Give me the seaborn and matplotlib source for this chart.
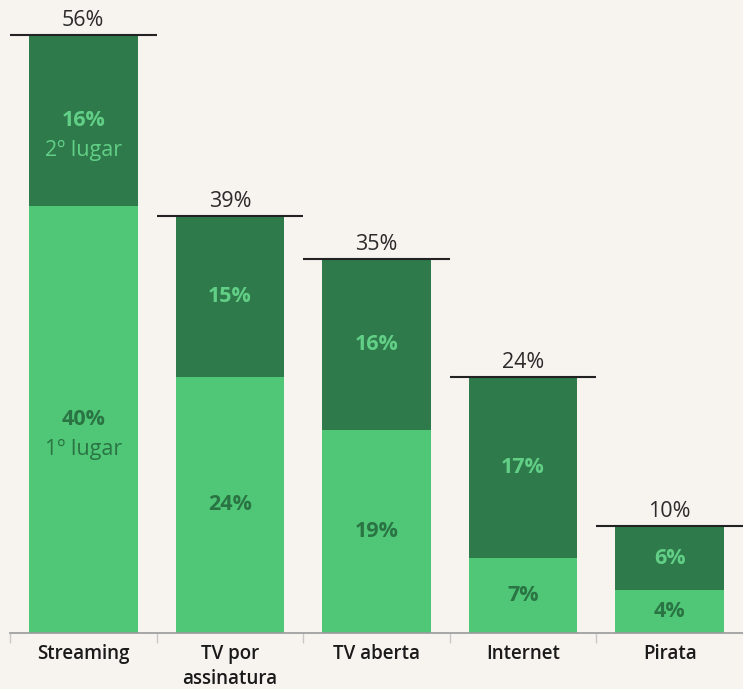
import matplotlib
matplotlib.use("Agg")
import matplotlib.pyplot as plt
import seaborn as sns
import pandas as pd

categories = ["Streaming", "TV por\nassinatura", "TV aberta", "Internet", "Pirata"]
first_place = [40, 24, 19, 7, 4]
second_place = [16, 15, 16, 17, 6]
totals = [56, 39, 35, 24, 10]

BG = "#F7F3EF"
LIGHT = "#4FC777"
DARK = "#2E7A4B"
LIGHT_TXT = "#62CF86"
DARK_TXT = "#2A7443"

sns.set_theme(style="white")
plt.rcParams["font.family"] = ["Open Sans", "DejaVu Sans"]

df = pd.DataFrame({"cat": categories, "first": first_place,
                   "second": second_place, "total": totals})

fig = plt.figure(figsize=(7.43, 6.89), dpi=100, facecolor=BG)
ax = fig.add_axes([10 / 743, 1 - 633 / 689, 1 - 10 / 743, 633 / 689])
ax.set_facecolor(BG)

# stacked bars: full height in dark, first place overlaid in light
sns.barplot(data=df, x="cat", y="total", color=DARK, saturation=1,
            width=0.74, ax=ax, order=categories, linewidth=0)
sns.barplot(data=df, x="cat", y="first", color=LIGHT, saturation=1,
            width=0.74, ax=ax, order=categories, linewidth=0)

for i, (f, s, t) in enumerate(zip(first_place, second_place, totals)):
    # total marker line and label
    ax.plot([i - 0.5, i + 0.5], [t, t], color="#222222", lw=1.5,
            solid_capstyle="butt", zorder=5)
    ax.annotate(f"{t}%", (i, t), xytext=(0, 3), textcoords="offset points",
                ha="center", va="bottom", fontsize=15.5, color="#2b2b2b")
    # segment labels
    ax.text(i, f + s / 2, f"{s}%", ha="center", va="center", fontsize=15.5,
            fontweight="bold", color=LIGHT_TXT)
    ax.text(i, f / 2, f"{f}%", ha="center", va="center", fontsize=15.5,
            fontweight="bold", color=DARK_TXT)
    if i == 0:
        ax.annotate("2º lugar", (i, f + s / 2), xytext=(0, -21.5),
                    textcoords="offset points", ha="center", va="center",
                    fontsize=15.5, color=LIGHT_TXT)
        ax.annotate("1º lugar", (i, f / 2), xytext=(0, -21.5),
                    textcoords="offset points", ha="center", va="center",
                    fontsize=15.5, color=DARK_TXT)

ax.set_xlim(-0.5, 4.5)
ax.set_ylim(0, 633 / 10.68)
ax.set_xlabel("")
ax.set_ylabel("")
ax.set_yticks([])
for side in ["left", "right", "top"]:
    ax.spines[side].set_visible(False)
ax.spines["bottom"].set_color("#9a9a9a")
ax.spines["bottom"].set_linewidth(1.2)

ax.set_xticks(range(len(categories)))
ax.set_xticklabels(categories, fontsize=13.5, color="#1a1a1a",
                   fontweight="semibold", linespacing=1.35)
ax.tick_params(axis="x", which="major", length=0, pad=8)
ax.set_xticks([i - 0.5 for i in range(len(categories))], minor=True)
ax.tick_params(axis="x", which="minor", bottom=True, length=7, width=1,
               color="#c8c8c8", direction="out")

fig.savefig("out.png", dpi=100, facecolor=BG)
